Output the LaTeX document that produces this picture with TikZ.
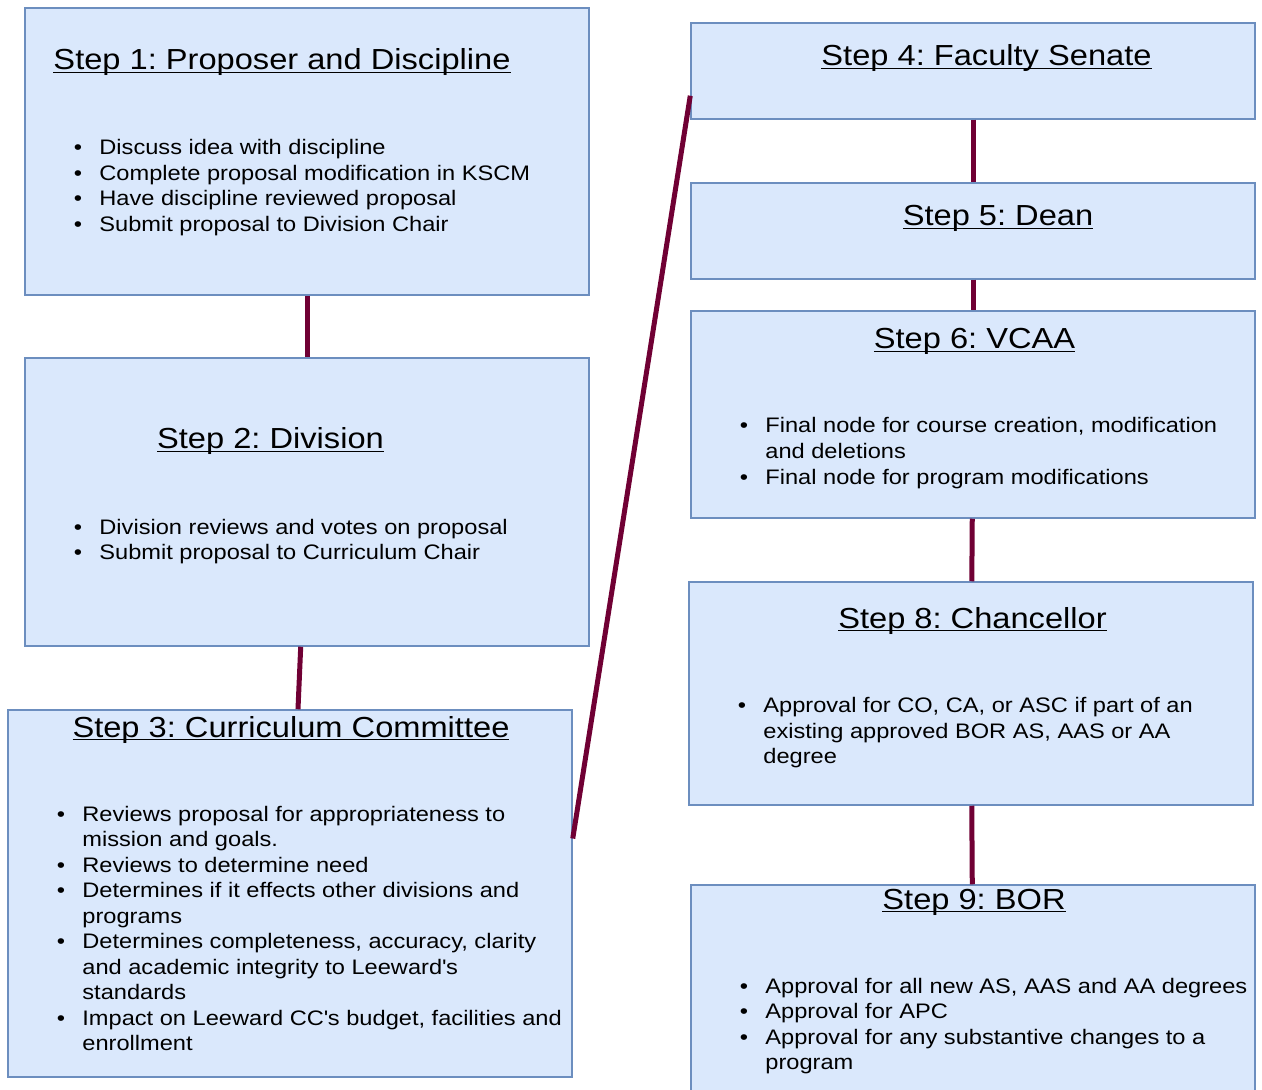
\documentclass[tikz,border=0pt]{standalone}
\usepackage{fontspec}
\setmainfont{Liberation Sans}[FakeStretch=1.125]
\frenchspacing

\definecolor{boxfill}{HTML}{DAE8FC}
\definecolor{boxline}{HTML}{6C8EBF}
\definecolor{linkred}{RGB}{112,0,52}

% underlined heading, bullet and hanging indent
\newcommand{\ulhead}[1]{\setbox0\hbox{#1}\rlap{\rule[-1.6pt]{\wd0}{0.7pt}}\box0}
\newcommand{\itm}{\makebox[12.75pt][l]{\textbullet}}
\newcommand{\cnt}{\hspace*{12.75pt}}

\tikzset{
  stepbox/.style={draw=boxline, fill=boxfill, line width=0.75pt, inner sep=0pt, minimum width=282pt},
  stephead/.style={anchor=base, inner sep=0pt, font=\fontsize{14.5}{17}\selectfont},
  steplist/.style={anchor=base west, inner sep=0pt, align=left, font=\fontsize{10.5}{12.75}\selectfont},
  link/.style={draw=linkred, line width=2.5pt}
}

\begin{document}
\begin{tikzpicture}[x=0.5pt, y=-0.5pt]
	\useasboundingbox (0,0) rectangle (1262,1090);
	% left column
	\node[stepbox, minimum height=143.5pt] (s1) at (307,151.5) {};
	\node[stepbox, minimum height=144pt] (s2) at (307,502) {};
	\node[stepbox, minimum height=183.5pt] (s3) at (290,893.5) {};
	% right column
	\node[stepbox, minimum height=48pt] (s4) at (973,71) {};
	\node[stepbox, minimum height=48pt] (s5) at (973,231) {};
	\node[stepbox, minimum height=103.5pt] (s6) at (973,414.5) {};
	\node[stepbox, minimum height=111.5pt] (s8) at (971,693.5) {};
	\node[stepbox, minimum height=107.5pt] (s9) at (973,992.5) {};

	% headings
	\node[stephead] (h1) at (282,70) {\ulhead{Step 1: Proposer and Discipline}};
	\node[stephead] (h2) at (270.5,449) {\ulhead{Step 2: Division}};
	\node[stephead] (h3) at (291,737) {\ulhead{Step 3: Curriculum Committee}};
	\node[stephead] (h4) at (986.5,66) {\ulhead{Step 4: Faculty Senate}};
	\node[stephead] (h5) at (998,226) {\ulhead{Step 5: Dean}};
	\node[stephead] (h6) at (974.5,349) {\ulhead{Step 6: VCAA}};
	\node[stephead] (h8) at (972.5,628) {\ulhead{Step 8: Chancellor}};
	\node[stephead] (h9) at (974,909) {\ulhead{Step 9: BOR}};

	% bullet lists (placed at the baseline of their last line)
	\node[steplist] (l1) at (73.5,231.5) {\itm Discuss idea with discipline\\
		\itm Complete proposal modification in KSCM\\
		\itm Have discipline reviewed proposal\\
		\itm Submit proposal to Division Chair};
	\node[steplist] (l2) at (73.5,559.5) {\itm Division reviews and votes on proposal\\
		\itm Submit proposal to Curriculum Chair};
	\node[steplist] (l3) at (56.5,1050.5) {\itm Reviews proposal for appropriateness to\\
		\cnt mission and goals.\\
		\itm Reviews to determine need\\
		\itm Determines if it effects other divisions and\\
		\cnt programs\\
		\itm Determines completeness, accuracy, clarity\\
		\cnt and academic integrity to Leeward\textquotesingle s\\
		\cnt standards\\
		\itm Impact on Leeward CC\textquotesingle s budget, facilities and\\
		\cnt enrollment};
	\node[steplist] (l6) at (739.5,484) {\itm Final node for course creation, modification\\
		\cnt and deletions\\
		\itm Final node for program modifications};
	\node[steplist] (l8) at (737.5,763.5) {\itm Approval for CO, CA, or ASC if part of an\\
		\cnt existing approved BOR AS, AAS or AA\\
		\cnt degree};
	\node[steplist] (l9) at (739.5,1069.5) {\itm Approval for all new AS, AAS and AA degrees\\
		\itm Approval for APC\\
		\itm Approval for any substantive changes to a\\
		\cnt program};

	% connectors
	\draw[link] (s1) -- (s2);
	\draw[link] (s2) -- (s3);
	\draw[link] (s3.11) -- (s4.185);
	\draw[link] (s4) -- (s5);
	\draw[link] (s5) -- (s6);
	\draw[link] (s6) -- (s8);
	\draw[link] (s8) -- (s9);
\end{tikzpicture}
\end{document}
